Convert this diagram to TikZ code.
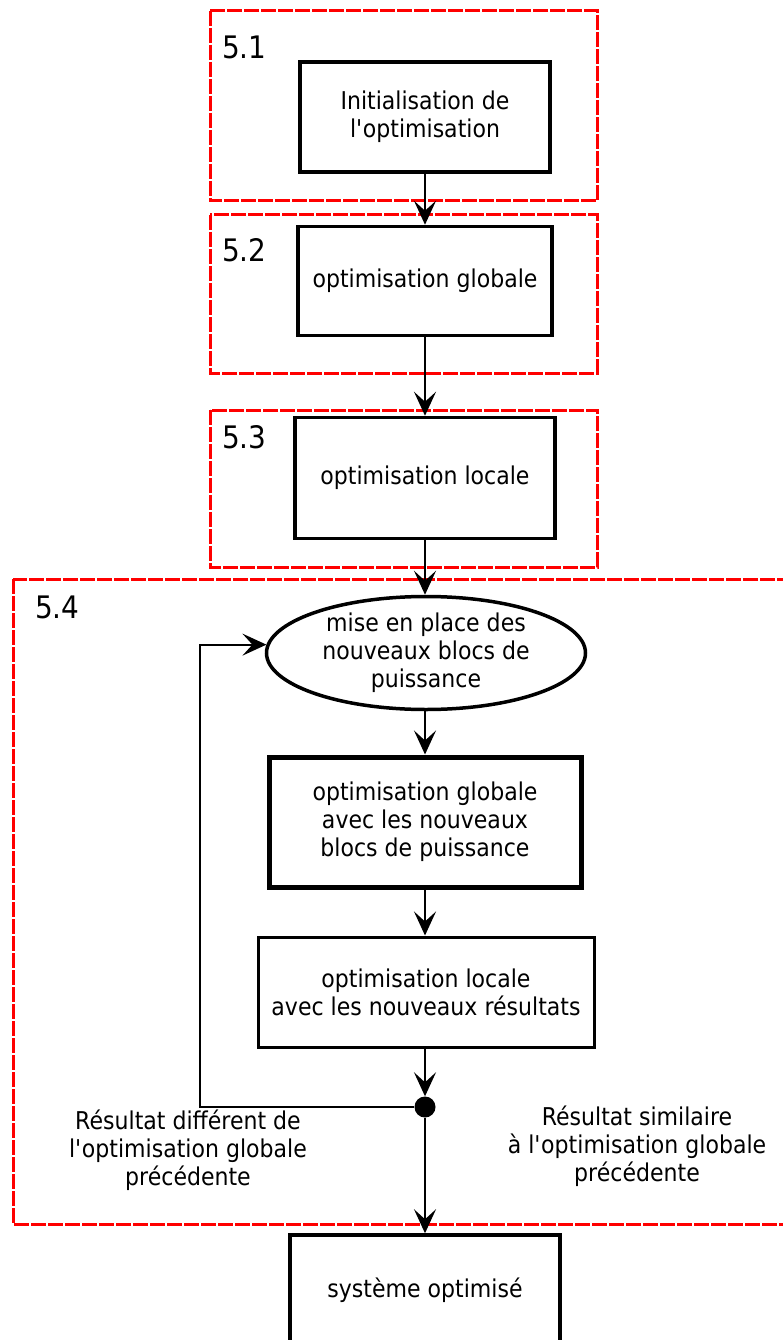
\documentclass[tikz,border=0pt]{standalone}
\usepackage{fontspec}
\setmainfont{DejaVu Sans}[FakeStretch=0.9]
\usepackage{tikz}
\usetikzlibrary{arrows.meta, positioning, shapes.geometric}
\definecolor{framered}{HTML}{FF0000}
\newcommand{\apos}{\textquotesingle}
\tikzset{
  stage/.style={draw=framered,line width=3pt,dash pattern=on 15pt off 2pt},
  stagelbl/.style={anchor=west,inner sep=0pt,font=\fontsize{31}{34}\selectfont},
  box/.style={rectangle,draw,line width=#1,align=center,
    font=\fontsize{24.5}{28}\selectfont},
  oval/.style={ellipse,draw,line width=3.5pt,align=center,inner sep=0pt,
    minimum width=319pt,minimum height=113pt,font=\fontsize{24.5}{28}\selectfont},
  note/.style={align=center,font=\fontsize{24.5}{28}\selectfont},
  joint/.style={circle,fill,inner sep=0pt,minimum size=21pt},
  arrow/.style={-{Stealth[length=24pt,width=22pt,inset=10pt]},line width=2pt},
}

\begin{document}
\begin{tikzpicture}[x=1pt,y=-1pt]
    \clip (0,0) rectangle (783,1340);
    % stage frames
    \draw[stage] (210,11) rectangle (597,201);
    \draw[stage] (210,215) rectangle (597,373);
    \draw[stage] (210,410) rectangle (597,567);
    \draw[stage] (13,579) rectangle (820,1224);
    \node[stagelbl] (s1) at (222,47) {5.1};
    \node[stagelbl] (s2) at (222,250) {5.2};
    \node[stagelbl] (s3) at (222,437) {5.3};
    \node[stagelbl] (s4) at (35,607) {5.4};

    % steps
    \node[box=4pt,minimum width=250pt,minimum height=110pt] (init) at (425,117)
      {Initialisation de\\l\apos optimisation};
    \node[box=3.5pt,minimum width=254pt,minimum height=109pt] (glob) at (425,281)
      {optimisation globale};
    \node[box=3.5pt,minimum width=260pt,minimum height=121pt] (loc) at (425,478)
      {optimisation locale};
    \node[oval] (blocs) at (426,653) {mise en place des\\nouveaux blocs de\\puissance};
    \node[box=5pt,minimum width=312pt,minimum height=130pt] (glob2) at (425,822)
      {optimisation globale\\avec les nouveaux\\blocs de puissance};
    \node[box=3pt,minimum width=336pt,minimum height=110pt] (loc2) at (426,992)
      {optimisation locale\\avec les nouveaux résultats};
    \node[joint] (test) at (425,1107) {};
    \node[box=3.5pt,minimum width=270pt,minimum height=110pt] (final) at (425,1290)
      {système optimisé};

    \node[note] (diff) at (188,1150)
      {Résultat différent de\\l\apos optimisation globale\\précédente};
    \node[note] (simil) at (637,1146)
      {Résultat similaire\\à l\apos optimisation globale\\précédente};

    % connectors
    \coordinate (loopx) at (200,0);
    \draw[arrow] (init.south) -- (glob.north);
    \draw[arrow] (glob.south) -- (loc.north);
    \draw[arrow] (loc.south) -- (loc.south |- blocs.north);
    \draw[arrow] (blocs.south -| glob2.north) -- (glob2.north);
    \draw[arrow] (glob2.south) -- (glob2.south |- loc2.north);
    \draw[arrow] (loc2.south -| test.north) -- (test.north);
    \draw[arrow] (test.south) -- (final.north);
    \draw[arrow] (test.west) -- (test.west -| loopx) |- (blocs.177);
\end{tikzpicture}
\end{document}
